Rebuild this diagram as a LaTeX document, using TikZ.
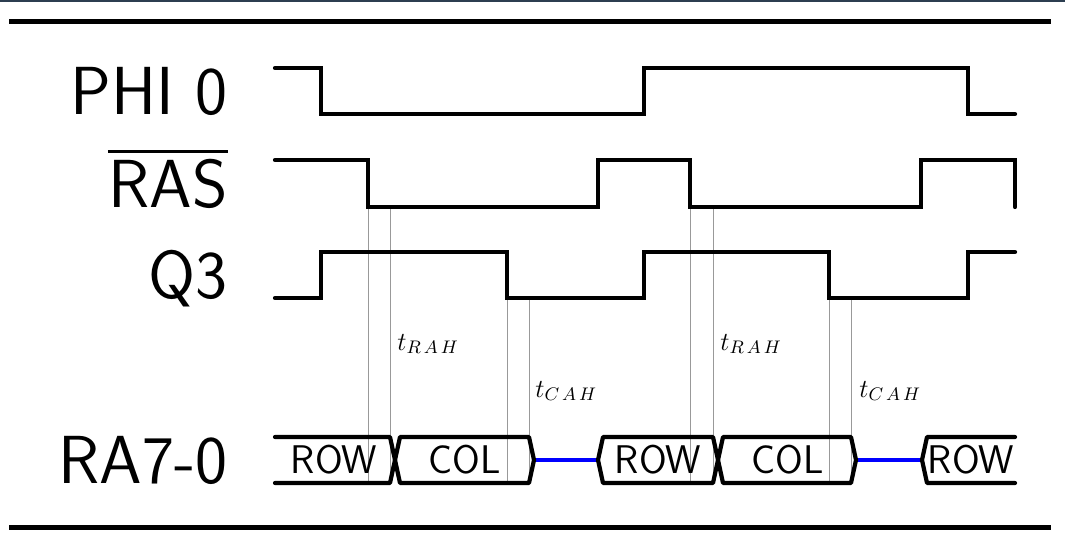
\RequirePackage{fix-cm}
\documentclass[tikz,border=0pt]{standalone}
\usepackage{fontspec}
\begin{document}
\begin{tikzpicture}[x=0.5pt,y=-0.5pt,
  sig/.style={line width=2.1pt, line join=miter, line cap=round},
  bus/.style={line width=2.1pt, line join=round, line cap=round},
  zline/.style={line width=2pt, blue},
  guide/.style={line width=0.5pt, gray!80},
  rulebar/.style={line width=2.6pt},
  siglabel/.style={anchor=base east, inner sep=0pt, font=\sffamily\fontsize{34}{38}\selectfont},
  buslabel/.style={inner sep=0pt, font=\sffamily\fontsize{20}{22}\selectfont},
  tlabel/.style={anchor=base west, inner sep=0pt, font=\fontsize{13}{15}\selectfont}]
\useasboundingbox (0,0) rectangle (1065,540);
\fill[color={rgb,255:red,44;green,62;blue,80}] (0,0) rectangle (1065,2);
\draw[rulebar] (9,21.5) -- (1051,21.5);
\draw[rulebar] (9,527.5) -- (1051,527.5);
% guide lines
\draw[guide] (368,207) -- (368,483);
\draw[guide] (390,207) -- (390,483);
\draw[guide] (507,298) -- (507,483);
\draw[guide] (529,298) -- (529,483);
\draw[guide] (690,207) -- (690,483);
\draw[guide] (713,207) -- (713,483);
\draw[guide] (829,298) -- (829,483);
\draw[guide] (851,298) -- (851,483);
% labels
\node[siglabel] (lphi) at (228,114) {PHI 0};
\node[siglabel] (lras) at (228,207) {RAS};
\draw[line width=1.5pt] ([yshift=3.5pt]lras.north west) -- ([yshift=3.5pt]lras.north east);
\node[siglabel] (lq3) at (228,298) {Q3};
\node[siglabel] (lra) at (228,483) {RA7-0};
% signals
\draw[sig] (275,68) -- (321,68) -- (321,114) -- (644,114) -- (644,68) -- (968,68) -- (968,114) -- (1015,114);
\draw[sig] (275,160) -- (368,160) -- (368,207) -- (598,207) -- (598,160) -- (690,160) -- (690,207) -- (921,207) -- (921,160) -- (1015,160) -- (1015,207);
\draw[sig] (275,298) -- (321,298) -- (321,252) -- (507,252) -- (507,298) -- (644,298) -- (644,252) -- (829,252) -- (829,298) -- (968,298) -- (968,252) -- (1015,252);
% bus
\draw[zline] (534,460) -- (598,460);
\draw[zline] (856,460) -- (922,460);
\draw[bus] (275,437) -- (390,437) -- (395,460) -- (390,483) -- (275,483);
\draw[bus] (400,437) -- (529,437) -- (534,460) -- (529,483) -- (400,483) -- (395,460) -- cycle;
\draw[bus] (603,437) -- (713,437) -- (718,460) -- (713,483) -- (603,483) -- (598,460) -- cycle;
\draw[bus] (723,437) -- (851,437) -- (856,460) -- (851,483) -- (723,483) -- (718,460) -- cycle;
\draw[bus] (1015,437) -- (927,437) -- (922,460) -- (927,483) -- (1015,483);
\node[buslabel] (row1) at (334,460) {ROW};
\node[buslabel] (col1) at (465,460) {COL};
\node[buslabel] (row2) at (658,460) {ROW};
\node[buslabel] (col2) at (788,460) {COL};
\node[buslabel] (row3) at (971,460) {ROW};
% timing labels
\node[tlabel] (trah1) at (397,350) {$t_{R\kern1.5pt A\kern1.5pt H}$};
\node[tlabel] (tcah1) at (535,397) {$t_{C\kern1.5pt A\kern1.5pt H}$};
\node[tlabel] (trah2) at (720,350) {$t_{R\kern1.5pt A\kern1.5pt H}$};
\node[tlabel] (tcah2) at (859,397) {$t_{C\kern1.5pt A\kern1.5pt H}$};
\end{tikzpicture}
\end{document}
